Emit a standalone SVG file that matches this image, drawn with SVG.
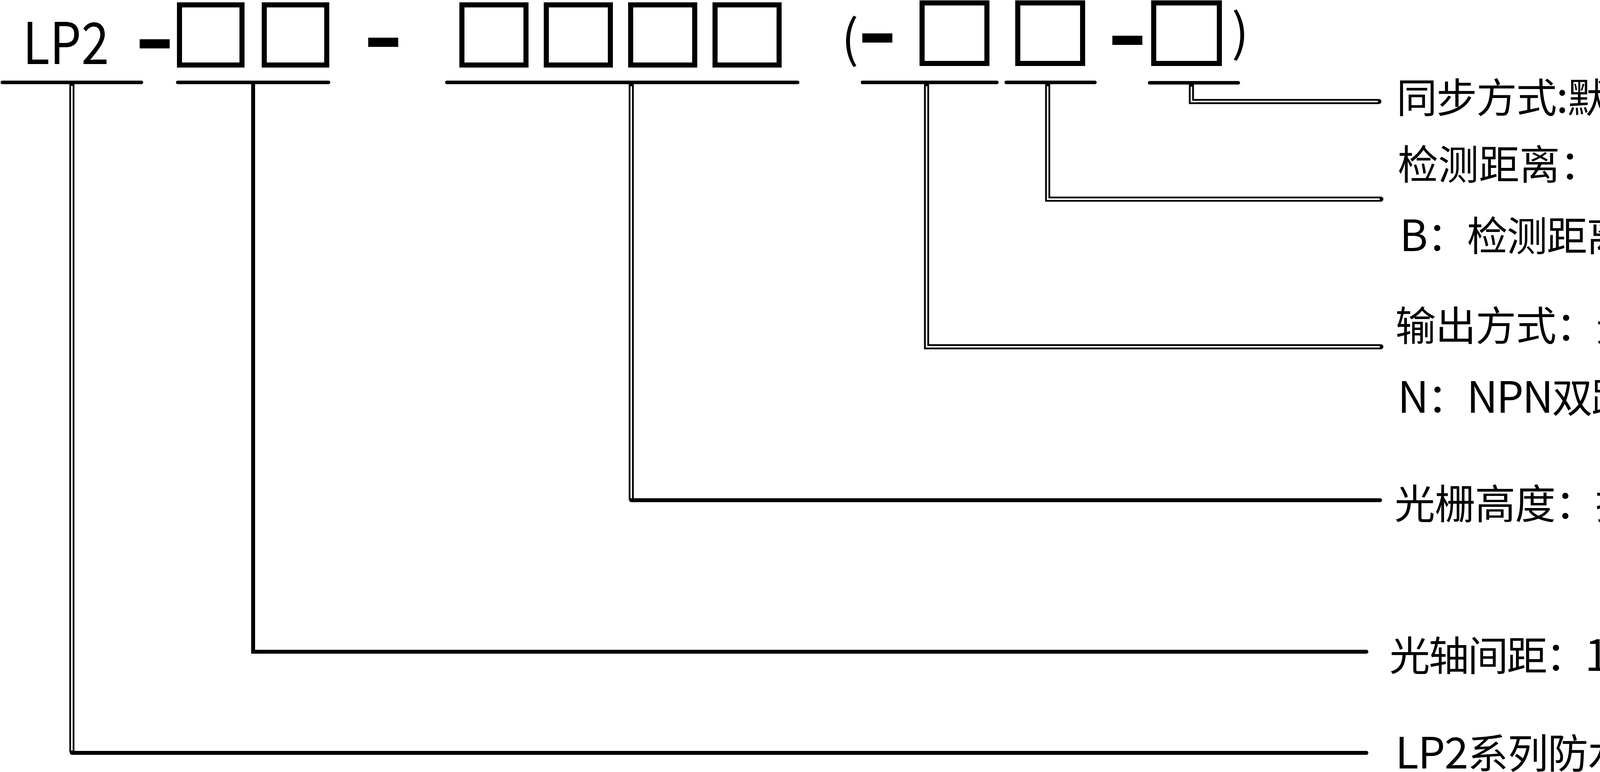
<svg xmlns="http://www.w3.org/2000/svg" width="5680" height="1977" viewBox="0 0 5680 1977">
<style>
.t{font-family:"Noto Sans CJK SC","Noto Sans",sans-serif;font-size:104px;fill:#000}
.lt{font-size:110px}
.code{font-family:"Noto Sans CJK SC","Noto Sans",sans-serif;font-size:147px;fill:#000}
.dash{font-family:"DejaVu Sans",sans-serif;font-weight:bold;font-size:165px;fill:#000}
.par{font-family:"Noto Sans CJK SC","Noto Sans",sans-serif;font-size:130px;fill:#000}
.box{fill:none;stroke:#000;stroke-width:13}
.ul{stroke:#000;stroke-width:9;stroke-linecap:round;fill:none}
.solid{stroke:#000;stroke-width:10;fill:none;stroke-linecap:round;stroke-linejoin:miter}
.dbl{stroke:#000;stroke-width:13;fill:none;stroke-linecap:round;stroke-linejoin:miter}
.core{stroke:#fff;stroke-width:4;fill:none;stroke-linejoin:miter}
</style>
<rect width="5680" height="1977" fill="#fff"/>
<g id="code-series">
<text class="code" x="58" y="164" textLength="221" lengthAdjust="spacingAndGlyphs">LP2</text>
<line class="ul" x1="6" y1="211" x2="362" y2="211"/>
</g>
<text class="dash" x="344" y="160" textLength="104" lengthAdjust="spacingAndGlyphs">-</text>
<g id="code-spacing">
<rect class="box" x="459.5" y="12.5" width="160" height="154"/>
<rect class="box" x="676.5" y="12.5" width="160" height="154"/>
<line class="ul" x1="455" y1="211" x2="841" y2="211"/>
</g>
<text class="dash" x="929" y="156" textLength="104" lengthAdjust="spacingAndGlyphs">-</text>
<g id="code-height">
<rect class="box" x="1182.5" y="12.5" width="164" height="154"/>
<rect class="box" x="1398.5" y="12.5" width="164" height="154"/>
<rect class="box" x="1614.5" y="12.5" width="164" height="154"/>
<rect class="box" x="1830.5" y="12.5" width="164" height="154"/>
<line class="ul" x1="1144" y1="211" x2="2042" y2="211"/>
</g>
<text class="par" x="2154" y="146">(</text>
<text class="dash" x="2194" y="145" textLength="104" lengthAdjust="spacingAndGlyphs">-</text>
<g id="code-output">
<rect class="box" x="2360.5" y="7.5" width="166" height="155"/>
<line class="ul" x1="2208" y1="211" x2="2552" y2="211"/>
</g>
<g id="code-distance">
<rect class="box" x="2605.5" y="7.5" width="166" height="155"/>
<line class="ul" x1="2576" y1="211" x2="2803" y2="211"/>
</g>
<text class="dash" x="2834" y="151" textLength="104" lengthAdjust="spacingAndGlyphs">-</text>
<g id="code-sync">
<rect class="box" x="2953.5" y="7.5" width="168" height="155"/>
<line class="ul" x1="2943" y1="212" x2="3170" y2="212"/>
</g>
<text class="par" x="3153" y="130">)</text>
<g id="connectors">
<path class="solid" d="M184 1928 H3498"/>
<path class="solid" d="M648 215 V1669 H3498"/>
<path class="solid" d="M1616 1281 H3533"/>
<path class="dbl" d="M184 215 V1924"/>
<path class="core" d="M184 220 V1922"/>
<path class="dbl" d="M1616 216 V1278"/>
<path class="core" d="M1616 221 V1276"/>
<path class="dbl" d="M2372 216 V888 H3535"/>
<path class="core" d="M2372 221 V888 H3532"/>
<path class="dbl" d="M2682 216 V510 H3535"/>
<path class="core" d="M2682 221 V510 H3532"/>
<path class="dbl" d="M3050 217 V260 H3530"/>
<path class="core" d="M3050 222 V260 H3527"/>
</g>
<g id="label-sync"><text class="t" x="3575" y="289" textLength="2104">同步方式<tspan class="lt">:</tspan>默认为<tspan class="lt">"X"</tspan>线同步；可选配<tspan class="lt">"G"</tspan>光同步</text></g>
<g id="label-distance">
<text class="t" x="3578" y="460" textLength="1845">检测距离：默认为<tspan class="lt">A</tspan>：检测距离<tspan class="lt">2-10</tspan>米；</text>
<text class="t" x="3583" y="643" textLength="1923"><tspan class="lt">B</tspan>：检测距离<tspan class="lt">0.2-3</tspan>米；<tspan class="lt">C</tspan>：检测距离<tspan class="lt">8-30</tspan>米</text>
</g>
<g id="label-output">
<text class="t" x="3572" y="873" textLength="1964">输出方式：无：默认为<tspan class="lt">PNP</tspan>双路常闭输出；</text>
<text class="t" x="3578" y="1057" textLength="1002"><tspan class="lt">N</tspan>：<tspan class="lt">NPN</tspan>双路常闭输出</text>
</g>
<g id="label-height"><text class="t" x="3570" y="1329" textLength="1338">光栅高度：指光栅的保护高度</text></g>
<g id="label-spacing"><text class="t" x="3557" y="1718" textLength="1513">光轴间距：<tspan class="lt">10mm/20mm/40mm</tspan></text></g>
<g id="label-series"><text class="t" x="3572" y="1968" textLength="1108"><tspan class="lt">LP2</tspan>系列防水型安全光栅</text></g>
</svg>
